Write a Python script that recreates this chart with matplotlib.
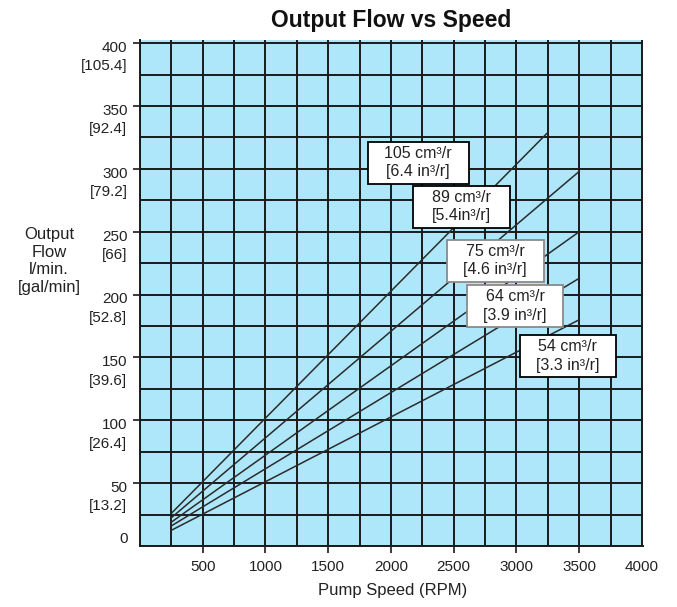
import matplotlib.pyplot as plt
from matplotlib.patches import Rectangle
from matplotlib.ticker import MultipleLocator
import numpy as np

plt.rcParams['font.family'] = ['Liberation Sans', 'DejaVu Sans']

# pump speed (RPM) and flow (l/min) at start and end of each displacement line
labels = ['105 cm³/r\n[6.4 in³/r]', '89 cm³/r\n[5.4in³/r]', '75 cm³/r\n[4.6 in³/r]',
          '64 cm³/r\n[3.9 in³/r]', '54 cm³/r\n[3.3 in³/r]']
speed_start = [250, 250, 250, 250, 250]
speed_end = [3250, 3500, 3500, 3500, 3500]
flow_start = [26, 22.5, 19, 16, 12.5]
flow_end = [329, 298, 250, 213, 180]

# label box centres (speed, flow)
box_x = [2217, 2561, 2831, 2989, 3409]
box_y = [305, 270, 227, 191, 151]

x_ticks = [500, 1000, 1500, 2000, 2500, 3000, 3500, 4000]
y_ticks = [50, 100, 150, 200, 250, 300, 350, 400]
y_gal = ['13.2', '26.4', '39.6', '52.8', '66', '79.2', '92.4', '105.4']

fig = plt.figure(figsize=(6.77, 6.07), dpi=100)
ax = fig.add_axes([140 / 677, 61 / 607, 503 / 677, 506 / 607])
ax.set_facecolor('#aee7f9')

ax.set_xlim(0, 4008)
ax.set_ylim(0, 402.5)

ax.xaxis.set_minor_locator(MultipleLocator(250))
ax.yaxis.set_minor_locator(MultipleLocator(25))
ax.set_xticks(x_ticks)
ax.set_yticks(y_ticks)
ax.set_yticklabels([])
ax.grid(which='both', color='#1a1a1a', lw=1.4)
ax.set_axisbelow(True)
ax.tick_params(which='minor', length=0)
ax.tick_params(which='major', length=5, width=1.2, color='#1a1a1a',
               labelsize=11, labelcolor='#222222', pad=5)
ax.xaxis.get_major_ticks()[-1].tick1line.set_visible(False)

for s in ['top', 'right']:
    ax.spines[s].set_visible(False)
for s in ['left', 'bottom']:
    ax.spines[s].set_color('#1a1a1a')
    ax.spines[s].set_linewidth(1.4)

# y tick labels: l/min over [gal/min]
for v, g in zip(y_ticks, y_gal):
    ax.annotate(f'{v}\n[{g}]', xy=(0, v), xycoords=('axes fraction', 'data'),
                xytext=(-9, 1.5), textcoords='offset points', ha='right', va='top',
                multialignment='right', fontsize=11, color='#222222', linespacing=1.4)
ax.annotate('0', xy=(0, 0), xycoords=('axes fraction', 'data'),
            xytext=(-9, 5), textcoords='offset points', ha='right', va='center',
            fontsize=11, color='#222222')

for xs, xe, ys, ye in zip(speed_start, speed_end, flow_start, flow_end):
    ax.plot([xs, xe], [ys, ye], color='#2b2b2b', lw=1.1, zorder=3)

edge = ['black', 'black', '#8a8a8a', '#8a8a8a', 'black']
for i, (lab, bx, by) in enumerate(zip(labels, box_x, box_y)):
    w = 803 if i == 0 else 770
    h = 33.4
    ax.add_patch(Rectangle((bx - w / 2, by - h / 2), w, h, facecolor='white',
                           edgecolor=edge[i], lw=1.3, zorder=4))
    ax.text(bx, by, lab, ha='center', va='center', multialignment='center',
            fontsize=11.5, color='#222222', linespacing=1.3, zorder=5)

fig.text(391.5 / 677, 1 - 20 / 607, 'Output Flow vs Speed', ha='center', va='center',
         fontsize=16.5, fontweight='bold', color='#111111')
fig.text(393 / 677, 1 - 591 / 607, 'Pump Speed (RPM)', ha='center', va='center',
         fontsize=12, color='#222222')
fig.text(49 / 677, 1 - 261 / 607, 'Output\nFlow\nl/min.\n[gal/min]', ha='center',
         va='center', multialignment='center', fontsize=12, color='#222222',
         linespacing=1.2)

fig.savefig('out.png', dpi=100)
